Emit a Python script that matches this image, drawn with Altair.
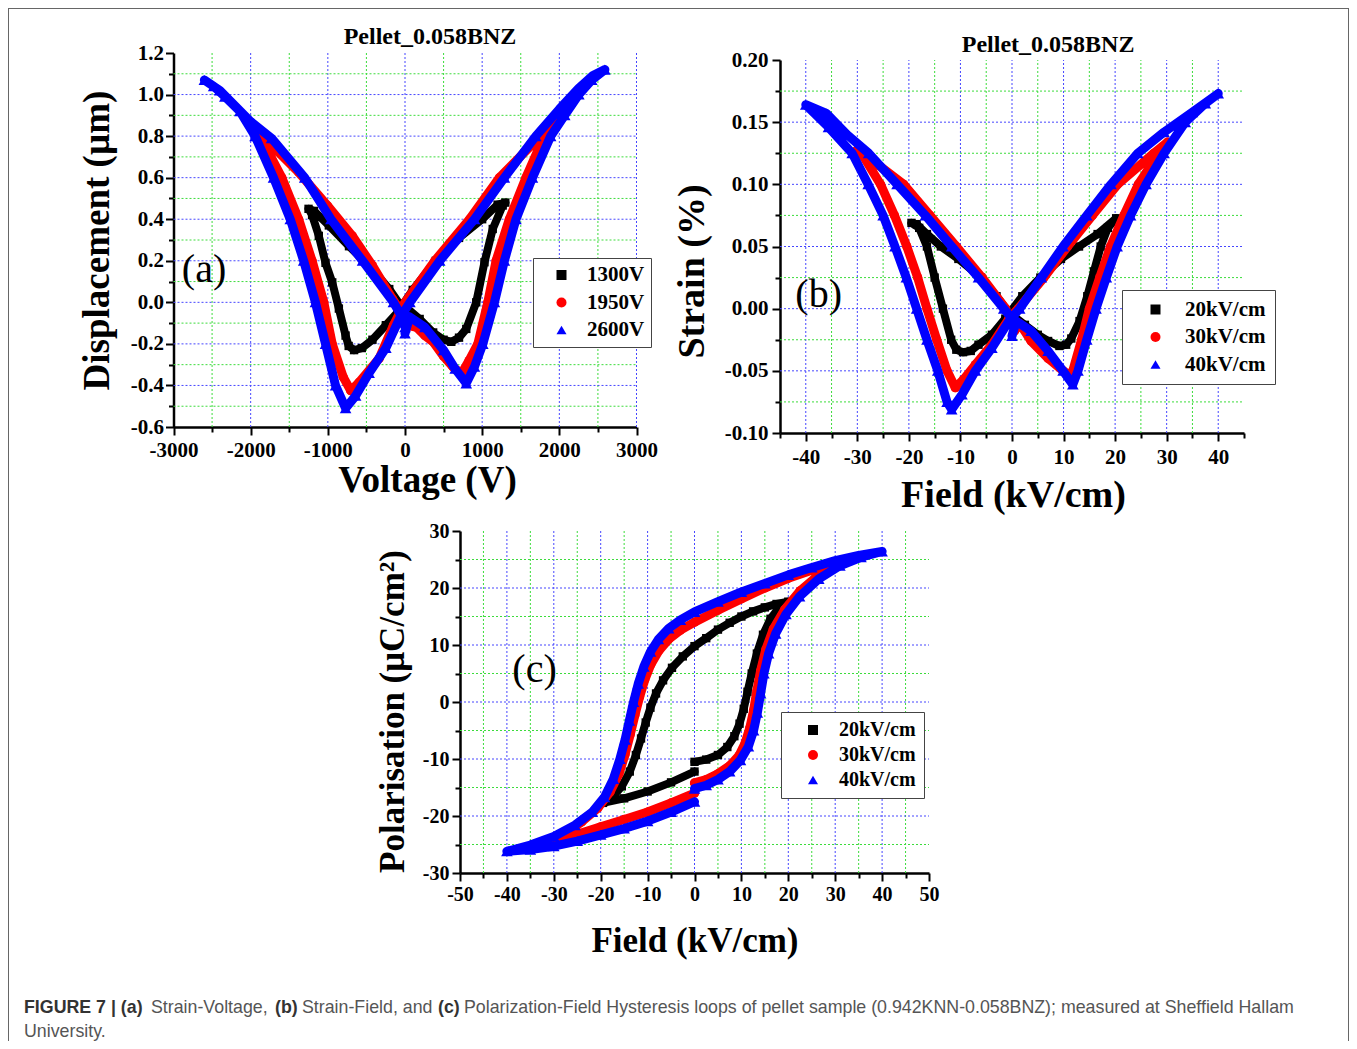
import altair as alt
import pandas as pd

# ---------------- data ----------------
# Panel (a): Displacement (um) vs Voltage (V)
A_LABELS = ["1300V", "1950V", "2600V"]
A_1300_X = [0, 190, 365, 500, 600, 700, 794, 923, 1030, 1137, 1266, 1300, 1200, 1000, 700, 400, 100, -100,
            -248, -422, -560, -660, -730, -770, -857, -943, -1030, -1117, -1204, -1250, -1180, -987, -726,
            -422, -204, -30]
A_1300_Y = [-0.02, -0.08, -0.145, -0.18, -0.19, -0.17, -0.128, 0.0, 0.193, 0.353, 0.466, 0.48, 0.47, 0.40,
            0.31, 0.20, 0.06, -0.05, -0.11, -0.18, -0.22, -0.23, -0.21, -0.16, -0.03, 0.096, 0.19, 0.32,
            0.42, 0.45, 0.44, 0.37, 0.27, 0.16, 0.064, -0.03]
A_1950_X = [20, 150, 258, 365, 500, 620, 730, 830, 944, 1073, 1180, 1352, 1567, 1803, 1950, 1650, 1223, 837,
            386, 0, -150, -335, -596, -704, -800, -943, -1052, -1204, -1378, -1596, -1878, -1965, -1726,
            -1378, -1004, -683, -422, -161, -20]
A_1950_Y = [-0.11, -0.12, -0.16, -0.19, -0.26, -0.31, -0.345, -0.28, -0.2, 0.0, 0.2, 0.4, 0.6, 0.8, 0.875,
            0.76, 0.6, 0.4, 0.2, 0.0, -0.11, -0.27, -0.385, -0.425, -0.36, -0.2, 0.0, 0.2, 0.4, 0.6, 0.8,
            0.835, 0.754, 0.626, 0.465, 0.32, 0.177, 0.016, -0.06]
A_2600_X = [0, 60, 258, 500, 650, 794, 900, 1009, 1159, 1288, 1438, 1652, 1888, 2070, 2253, 2420, 2590,
            2430, 2250, 2000, 1695, 1288, 901, 450, 64, -73, -248, -465, -640, -770, -900, -1030, -1161,
            -1313, -1487, -1704, -1943, -2140, -2335, -2480, -2600, -2400, -2000, -1730, -1300, -960, -550,
            -150, -40, 0]
A_2600_Y = [-0.15, -0.07, -0.12, -0.23, -0.32, -0.39, -0.31, -0.2, 0.0, 0.2, 0.4, 0.6, 0.8, 0.9, 1.0, 1.07,
            1.12, 1.09, 1.03, 0.93, 0.8, 0.6, 0.4, 0.2, 0.0, -0.08, -0.22, -0.34, -0.45, -0.51, -0.40, -0.2,
            0.0, 0.2, 0.4, 0.6, 0.8, 0.92, 0.99, 1.04, 1.07, 1.02, 0.87, 0.79, 0.6, 0.4, 0.2, 0.0, -0.07,
            -0.12]

# Panel (b): Strain (%) vs Field (kV/cm)
B_LABELS = ["20kV/cm", "30kV/cm", "40kV/cm"]
B_20_X = [0, 2.5, 5.0, 7.0, 9.2, 10.5, 11.5, 13.1, 14.6, 15.9, 17.2, 18.6, 20.2, 16.6, 13.0, 9.5, 5.5, 2.0,
          -1.3, -3.9, -6.5, -8.0, -9.5, -10.8, -11.8, -13.4, -15.0, -16.5, -18.0, -19.5, -18.5, -16.5,
          -13.8, -10.4, -6.0, -3.0, -0.8]
B_20_Y = [-0.005, -0.013, -0.021, -0.026, -0.030, -0.029, -0.024, -0.010, 0.010, 0.030, 0.050, 0.065,
          0.0727, 0.060, 0.050, 0.040, 0.025, 0.010, -0.008, -0.021, -0.029, -0.034, -0.035, -0.033,
          -0.025, 0.0, 0.025, 0.050, 0.065, 0.069, 0.068, 0.060, 0.050, 0.040, 0.025, 0.010, -0.002]
B_30_X = [0.5, 1.5, 3.7, 7.0, 9.9, 11.5, 11.8, 13.5, 15.0, 17.0, 19.1, 21.7, 24.5, 28.5, 30.2, 27.5, 20.5,
          15.6, 10.8, 6.2, 1.2, -0.6, -3.9, -7.1, -9.4, -11.0, -12.6, -14.6, -16.5, -18.3, -20.4, -22.8,
          -25.5, -29.2, -30.1, -25.9, -21.0, -15.9, -10.8, -5.8, -1.2]
B_30_Y = [-0.018, -0.012, -0.026, -0.040, -0.050, -0.054, -0.050, -0.025, 0.0, 0.025, 0.050, 0.075, 0.100,
          0.125, 0.134, 0.125, 0.100, 0.075, 0.050, 0.025, 0.0, -0.008, -0.029, -0.045, -0.057, -0.0636,
          -0.050, -0.025, 0.0, 0.025, 0.050, 0.075, 0.100, 0.125, 0.1275, 0.1155, 0.100, 0.075, 0.050,
          0.025, 0.0]
B_40_X = [0, 0.8, 3.7, 7.0, 9.9, 11.8, 12.8, 14.5, 16.3, 18.3, 20.4, 23.0, 26.0, 29.5, 33.6, 37.5, 40.0,
          35.0, 29.5, 24.4, 19.2, 14.5, 9.9, 5.7, 1.5, -0.6, -3.9, -7.1, -9.7, -11.7, -12.6, -14.4, -16.5,
          -18.5, -20.5, -22.7, -25.0, -27.9, -31.0, -35.6, -40.0, -36.0, -32.0, -27.8, -22.3, -16.8,
          -11.7, -6.5, -1.6, 0]
B_40_Y = [-0.022, -0.010, -0.018, -0.034, -0.050, -0.061, -0.050, -0.025, 0.0, 0.025, 0.050, 0.075, 0.100,
          0.125, 0.150, 0.165, 0.173, 0.158, 0.142, 0.125, 0.100, 0.075, 0.050, 0.025, 0.0, -0.010,
          -0.0316, -0.050, -0.069, -0.081, -0.075, -0.050, -0.025, 0.0, 0.025, 0.050, 0.075, 0.100, 0.125,
          0.146, 0.164, 0.157, 0.140, 0.125, 0.100, 0.075, 0.050, 0.025, 0.0, -0.008]

# Panel (c): Polarisation (uC/cm2) vs Field (kV/cm)
C_LABELS = ["20kV/cm", "30kV/cm", "40kV/cm"]
C_20_X = [0, 2.5, 5.0, 7.0, 8.5, 9.6, 10.5, 11.3, 12.2, 13.3, 14.6, 16.2, 18.0, 20.0,
          17.5, 15.0, 12.5, 10.0, 7.5, 5.0, 2.5, 0, -2.5, -4.8, -6.7, -8.2, -9.4, -10.4, -11.4, -12.5,
          -13.8, -15.5, -17.5, -19.5, -15.0, -10.0, -5.0, 0]
C_20_Y = [-10.5, -10.1, -9.3, -7.9, -6.0, -3.8, -1.2, 1.8, 5.0, 8.5, 11.8, 14.6, 16.5, 17.6,
          17.2, 16.6, 15.9, 15.0, 13.9, 12.7, 11.2, 9.8, 8.0, 6.0, 3.8, 1.5, -1.0, -3.6, -6.4, -9.3,
          -12.2, -14.8, -16.7, -17.7, -16.9, -15.7, -14.1, -12.2]
C_30_X = [0, 2.5, 5.0, 7.5, 9.5, 10.8, 11.8, 12.6, 13.3, 14.1, 15.2, 16.8, 19.2, 22.5, 26.5, 30.2,
          25.0, 20.0, 15.0, 10.0, 5.0, 0, -3.0, -5.5, -7.6, -9.3, -10.6, -11.7, -12.7, -13.7, -14.8,
          -16.1, -18.0, -20.6, -24.0, -27.5, -30.0, -25.0, -20.0, -15.0, -10.0, -5.0, 0]
C_30_Y = [-14.2, -13.6, -12.6, -11.2, -9.4, -7.2, -4.5, -1.5, 2.0, 5.5, 9.2, 12.8, 16.2, 19.5, 22.3, 24.4,
          23.1, 21.7, 20.0, 18.1, 16.1, 14.0, 12.6, 11.0, 9.0, 6.6, 3.9, 0.9, -2.3, -5.7, -9.2,
          -12.6, -15.8, -18.6, -21.0, -23.0, -24.4, -23.2, -21.9, -20.6, -19.3, -17.7, -16.0]
C_40_X = [0, 2.5, 5.0, 7.5, 9.8, 11.5, 12.6, 13.4, 14.1, 14.8, 15.8, 17.3, 19.5, 22.4, 26.5, 31.0, 35.5,
          40.0, 35.0, 30.0, 25.0, 20.0, 15.0, 10.0, 5.0, 0, -3.0, -5.5, -7.7, -9.4, -10.8, -12.0, -13.0,
          -13.9, -14.8, -15.9, -17.3, -19.2, -21.8, -25.5, -30.0, -35.0, -40.0, -35.0, -30.0, -25.0,
          -20.0, -15.0, -10.0, -5.0, 0]
C_40_Y = [-15.2, -14.6, -13.6, -12.2, -10.2, -7.8, -5.0, -1.9, 1.5, 5.0, 8.5, 12.0, 15.4, 18.5, 21.6, 23.9,
          25.4, 26.4, 25.7, 24.8, 23.6, 22.3, 20.8, 19.3, 17.6, 15.8, 14.4, 12.9, 11.0, 8.8, 6.2, 3.2,
          0.0, -3.3, -6.6, -10.0, -13.5, -16.7, -19.3, -21.6, -23.6, -25.1, -26.2, -25.9, -25.3, -24.4,
          -23.3, -22.2, -20.9, -19.3, -17.5]

PANEL_TITLE = "Pellet_0.058BNZ"
CAPTION = [
    ("FIGURE 7 | (a)", True), ("Strain-Voltage,", False), ("(b)", True), ("Strain-Field, and", False),
    ("(c)", True),
    ("Polarization-Field Hysteresis loops of pellet sample (0.942KNN-0.058BNZ); measured at Sheffield Hallam",
     False),
]
CAPTION_LINE2 = "University."

# ---------------- styling / layout ----------------
W, H = 1341, 1033
SERIF = "Liberation Serif"
SANS = "Liberation Sans"
MAJOR_GRID = "#4646ff"
MINOR_GRID = "#3cdc3c"
SERIES_COLORS = ["#000000", "#ff0000", "#0000ff"]
SERIES_SHAPES = ["square", "circle", "triangle-up"]
LINE_WIDTHS = [8, 9, 9]
POINT_SIZES = [70, 85, 135]
MINUS = "\u2212"


def steps(lo, hi, step):
    n = int(round((hi - lo) / step))
    return [round(lo + k * step, 6) for k in range(n + 1)]


def is_major(v, major):
    return abs(round(v / major) * major - v) < 1e-9


def build_panel(sp):
    xs = alt.Scale(domain=sp["xdom"], range=sp["xrange"], nice=False, zero=False)
    ys = alt.Scale(domain=sp["ydom"], range=sp["yrange"], nice=False, zero=False)
    common = dict(domainColor="black", domainWidth=2.5, tickColor="black", tickWidth=2,
                  labelFont=SERIF, labelFontWeight="bold", labelFontSize=sp["labelsize"],
                  labelColor="black", titleFont=SERIF, titleFontWeight="bold",
                  titleFontSize=sp["titlesize"], titleColor="black", grid=False, labelOverlap=False,
                  labelFlush=False, titleAlign="center", titleBaseline="alphabetic")
    xaxis = alt.Axis(orient="bottom", offset=sp["xoffset"], values=sp["xticks"],
                     labelExpr=f"{sp['xmajortest']} ? {sp['xlabel']} : ''",
                     tickSize=alt.condition(sp["xmajortest"], alt.value(8), alt.value(5)),
                     title=sp["xtitle"], titleX=sp["xtitlepos"][0], titleY=sp["xtitlepos"][1],
                     titleAngle=0, labelPadding=sp["xlabelpad"], **common)
    yaxis = alt.Axis(orient="left", offset=sp["yoffset"], values=sp["yticks"],
                     labelExpr=f"{sp['ymajortest']} ? {sp['ylabel']} : ''",
                     tickSize=alt.condition(sp["ymajortest"], alt.value(8), alt.value(5)),
                     title=sp["ytitle"], titleX=sp["ytitlepos"][0], titleY=sp["ytitlepos"][1],
                     titleAngle=270, labelPadding=sp["ylabelpad"], **common)
    X = alt.X("x:Q", scale=xs, axis=xaxis)
    Y = alt.Y("y:Q", scale=ys, axis=yaxis)

    grid_color = alt.condition("datum.kind == 'major'", alt.value(MAJOR_GRID), alt.value(MINOR_GRID))
    gv = pd.DataFrame({"x": sp["gridx"], "y": sp["ydom"][0], "y2": sp["ydom"][1],
                       "kind": ["major" if is_major(v, sp["xmajor"]) else "minor" for v in sp["gridx"]]})
    gh = pd.DataFrame({"y": sp["gridy"], "x": sp["xdom"][0], "x2": sp["xdom"][1],
                       "kind": ["major" if is_major(v, sp["ymajor"]) else "minor" for v in sp["gridy"]]})
    layers = [
        alt.Chart(gv).mark_rule(strokeDash=[2, 2], strokeWidth=1).encode(
            x=X, y=Y, y2=alt.Y2("y2:Q"), color=grid_color),
        alt.Chart(gh).mark_rule(strokeDash=[2, 2], strokeWidth=1).encode(
            y=Y, x=X, x2=alt.X2("x2:Q"), color=grid_color),
    ]

    cscale = alt.Scale(domain=sp["labels"], range=SERIES_COLORS)
    sscale = alt.Scale(domain=sp["labels"], range=SERIES_SHAPES)
    lg = sp["legend"]
    legend = alt.Legend(title=None, orient="none", legendX=lg["x"], legendY=lg["y"], padding=lg["pad"],
                        symbolOffset=lg["symoff"], labelOffset=lg["laboff"], rowPadding=lg["rowpad"],
                        labelFont=SERIF, labelFontWeight="bold", labelFontSize=lg["size"],
                        labelColor="black", symbolSize=100, symbolStrokeWidth=0, symbolOpacity=1,
                        strokeColor="#444444", fillColor="white")
    for k, (xv, yv) in enumerate(sp["series"]):
        df = pd.DataFrame({"x": xv, "y": yv, "i": list(range(len(xv))), "s": sp["labels"][k]})
        layers.append(alt.Chart(df).mark_line(color=SERIES_COLORS[k], strokeWidth=LINE_WIDTHS[k],
                                              strokeJoin="round", strokeCap="round").encode(
            x=X, y=Y, order="i:Q"))
        layers.append(alt.Chart(df).mark_point(filled=True, opacity=1, size=POINT_SIZES[k]).encode(
            x=X, y=Y,
            color=alt.Color("s:N", scale=cscale, legend=legend),
            shape=alt.Shape("s:N", scale=sscale, legend=legend)))

    for note in sp["notes"]:
        nd = pd.DataFrame({"x": [note["x"]], "y": [note["y"]], "t": [note["text"]]})
        layers.append(alt.Chart(nd).mark_text(font=SERIF, fontSize=note["size"], fontWeight=note["weight"],
                                              color="black", align="center",
                                              baseline=note["baseline"]).encode(x=X, y=Y, text="t:N"))
    return alt.layer(*layers)


def int_test(step):
    return f"datum.value % {step} == 0"


def dec_test(mult):
    return f"abs(round(datum.value*{mult})) % 2 == 0"


INT_LABEL = "'' + datum.value"


def dec_label(fmt):
    return f"replace(format(datum.value, '{fmt}'), '{MINUS}', '-')"


panel_a = build_panel(dict(
    labels=A_LABELS, series=[(A_1300_X, A_1300_Y), (A_1950_X, A_1950_Y), (A_2600_X, A_2600_Y)],
    xdom=[-3000, 3000], xrange=[165.5, 628.5], ydom=[-0.6, 1.2], yrange=[419, 45],
    xoffset=-(H - 419), yoffset=-165.5,
    xticks=steps(-3000, 3000, 500), yticks=steps(-0.6, 1.2, 0.1),
    xmajortest=int_test(1000), ymajortest=dec_test(10),
    xlabel=INT_LABEL, ylabel=dec_label(".1f"),
    xtitle="Voltage (V)", ytitle="Displacement (\u00b5m)",
    xtitlepos=(419, 64.5), ytitlepos=(-65, 232), labelsize=21, titlesize=37,
    xlabelpad=4, ylabelpad=2,
    gridx=steps(-2500, 3000, 500), gridy=steps(-0.5, 1.1, 0.1), xmajor=1000, ymajor=0.2,
    legend=dict(x=525, y=250, pad=6.5, symoff=11.5, laboff=15, rowpad=5.5, size=21),
    notes=[dict(x=-2604, y=0.154, text="(a)", size=40, weight="normal", baseline="middle"),
           dict(x=324, y=1.245, text=PANEL_TITLE, size=24, weight="bold", baseline="alphabetic")],
))

panel_b = build_panel(dict(
    labels=B_LABELS, series=[(B_20_X, B_20_Y), (B_30_X, B_30_Y), (B_40_X, B_40_Y)],
    xdom=[-45, 45], xrange=[772, 1236], ydom=[-0.1, 0.2], yrange=[425, 52],
    xoffset=-(H - 425), yoffset=-772,
    xticks=steps(-45, 45, 5), yticks=steps(-0.1, 0.2, 0.025),
    xmajortest=int_test(10), ymajortest=dec_test(40),
    xlabel=INT_LABEL, ylabel=dec_label(".2f"),
    xtitle="Field (kV/cm)", ytitle="Strain (%)",
    xtitlepos=(1005, 73), ytitlepos=(-77, 263), labelsize=21, titlesize=38,
    xlabelpad=5, ylabelpad=4,
    gridx=steps(-40, 40, 5), gridy=steps(-0.075, 0.175, 0.025), xmajor=10, ymajor=0.05,
    legend=dict(x=1114, y=282, pad=9, symoff=14, laboff=19, rowpad=5.5, size=21),
    notes=[dict(x=-37.5, y=0.011, text="(b)", size=40, weight="normal", baseline="middle"),
           dict(x=7.0, y=0.2066, text=PANEL_TITLE, size=24, weight="bold", baseline="alphabetic")],
))

panel_c = build_panel(dict(
    labels=C_LABELS, series=[(C_20_X, C_20_Y), (C_30_X, C_30_Y), (C_40_X, C_40_Y)],
    xdom=[-50, 50], xrange=[452, 921], ydom=[-30, 30], yrange=[865, 523],
    xoffset=-(H - 865), yoffset=-452,
    xticks=steps(-50, 50, 5), yticks=steps(-30, 30, 5),
    xmajortest=int_test(10), ymajortest=int_test(10),
    xlabel=INT_LABEL, ylabel=INT_LABEL,
    xtitle="Field (kV/cm)", ytitle="Polarisation (\u03bcC/cm\u00b2)",
    xtitlepos=(686.5, 78), ytitlepos=(-57, 703), labelsize=20, titlesize=35,
    xlabelpad=3, ylabelpad=3,
    gridx=steps(-45, 45, 5), gridy=steps(-25, 25, 5), xmajor=10, ymajor=10,
    legend=dict(x=773, y=704, pad=8, symoff=14, laboff=16, rowpad=5, size=20),
    notes=[dict(x=-34.1, y=5.6, text="(c)", size=40, weight="normal", baseline="middle")],
))

# figure frame (left, top, right edges) and caption
one = pd.DataFrame({"k": [0]})
frame_layers = [
    alt.Chart(one).mark_rule(color="#666666", strokeWidth=1).encode(
        x=alt.value(0.5), y=alt.value(0), y2=alt.value(H)),
    alt.Chart(one).mark_rule(color="#666666", strokeWidth=1).encode(
        x=alt.value(0), x2=alt.value(W), y=alt.value(0.5)),
    alt.Chart(one).mark_rule(color="#666666", strokeWidth=1).encode(
        x=alt.value(W - 0.5), y=alt.value(0), y2=alt.value(H)),
]
CAPTION_X = [16, 143, 267, 294, 430, 456]
caption_layers = []
for (txt, bold), cx in zip(CAPTION, CAPTION_X):
    caption_layers.append(alt.Chart(one).mark_text(
        text=txt, font=SANS, fontSize=17.8, fontWeight="bold" if bold else "normal",
        color="#333333" if bold else "#555555", align="left", baseline="middle").encode(
        x=alt.value(cx), y=alt.value(1000)))
caption_layers.append(alt.Chart(one).mark_text(
    text=CAPTION_LINE2, font=SANS, fontSize=17.8, color="#555555", align="left",
    baseline="middle").encode(x=alt.value(16), y=alt.value(1024)))

chart = alt.layer(*frame_layers, panel_a, panel_b, panel_c, *caption_layers).resolve_scale(
    x="independent", y="independent", color="independent", shape="independent"
).resolve_axis(x="independent", y="independent").resolve_legend(
    color="independent", shape="independent"
).properties(
    width=W, height=H, padding=0, autosize=alt.AutoSizeParams(type="none")
).configure_view(stroke=None)

chart.save("out.html", embed_options={"renderer": "svg", "actions": False})
